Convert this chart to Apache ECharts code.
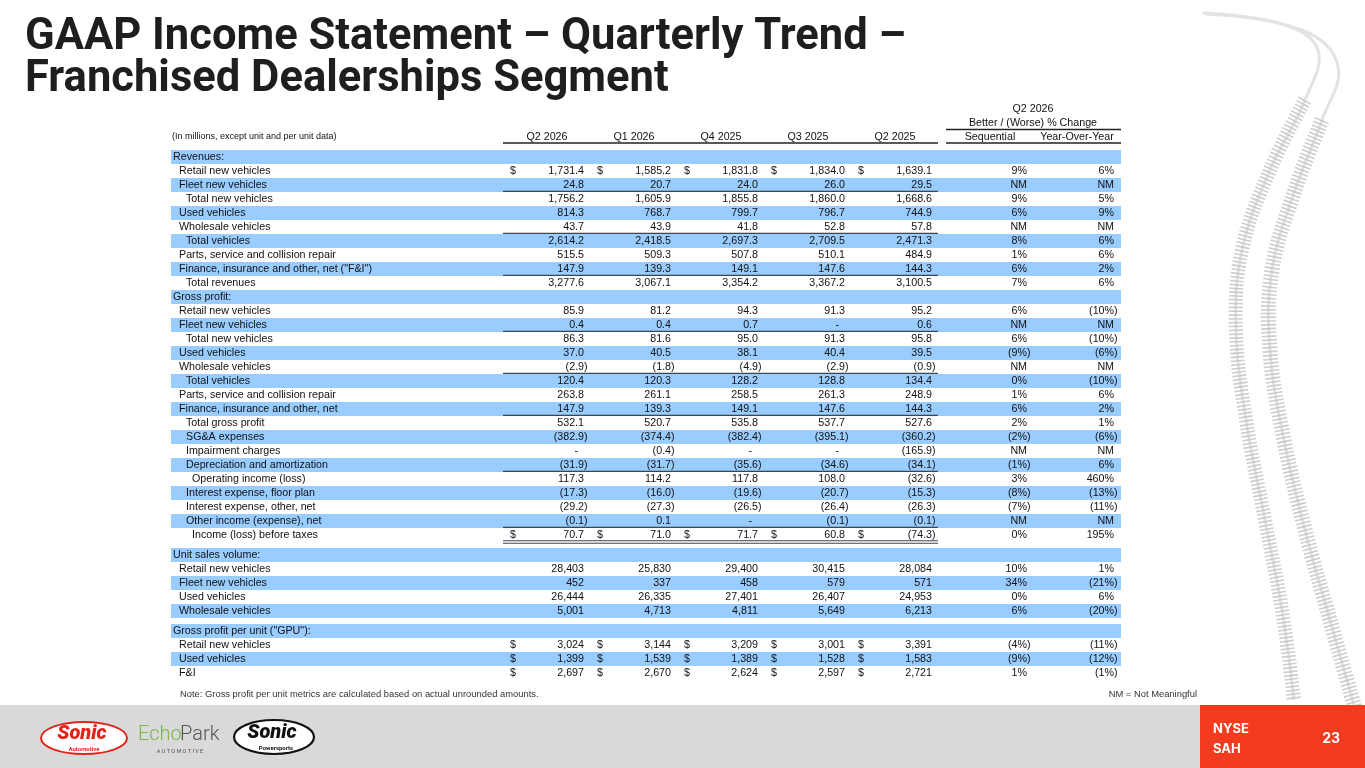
<!DOCTYPE html>
<html><head><meta charset="utf-8">
<script src="https://cdn.jsdelivr.net/npm/echarts@6/dist/echarts.min.js"></script>
<style>html,body{margin:0;padding:0;background:#fff}#main{width:1365px;height:768px}</style>
</head><body><div id="main"></div>
<script>
// ---------- DATA ----------
const titleLines = ['GAAP Income Statement \u2013 Quarterly Trend \u2013', 'Franchised Dealerships Segment'];
const quarters = ['Q2 2026', 'Q1 2026', 'Q4 2025', 'Q3 2025', 'Q2 2025'];
const changeGroupTitle = ['Q2 2026', 'Better / (Worse) % Change'];
const changeHeaders = ['Sequential', 'Year-Over-Year'];
const unitsNote = '(In millions, except unit and per unit data)';
const sectionTitles = ['Revenues:', 'Gross profit:', 'Unit sales volume:', 'Gross profit per unit ("GPU"):'];

const revenueLabels = ['Retail new vehicles', 'Fleet new vehicles', 'Total new vehicles', 'Used vehicles', 'Wholesale vehicles', 'Total vehicles', 'Parts, service and collision repair', 'Finance, insurance and other, net ("F&I")', 'Total revenues'];
const revenueValues = [
  [1731.4, 1585.2, 1831.8, 1834.0, 1639.1],
  [24.8, 20.7, 24.0, 26.0, 29.5],
  [1756.2, 1605.9, 1855.8, 1860.0, 1668.6],
  [814.3, 768.7, 799.7, 796.7, 744.9],
  [43.7, 43.9, 41.8, 52.8, 57.8],
  [2614.2, 2418.5, 2697.3, 2709.5, 2471.3],
  [515.5, 509.3, 507.8, 510.1, 484.9],
  [147.9, 139.3, 149.1, 147.6, 144.3],
  [3277.6, 3067.1, 3354.2, 3367.2, 3100.5]
];
const revenueSeq = [9, 'NM', 9, 6, 'NM', 8, 1, 6, 7];
const revenueYoy = [6, 'NM', 5, 9, 'NM', 6, 6, 2, 6];

const grossLabels = ['Retail new vehicles', 'Fleet new vehicles', 'Total new vehicles', 'Used vehicles', 'Wholesale vehicles', 'Total vehicles', 'Parts, service and collision repair', 'Finance, insurance and other, net', 'Total gross profit', 'SG&A expenses', 'Impairment charges', 'Depreciation and amortization', 'Operating income (loss)', 'Interest expense, floor plan', 'Interest expense, other, net', 'Other income (expense), net', 'Income (loss) before taxes'];
const grossValues = [
  [85.9, 81.2, 94.3, 91.3, 95.2],
  [0.4, 0.4, 0.7, null, 0.6],
  [86.3, 81.6, 95.0, 91.3, 95.8],
  [37.0, 40.5, 38.1, 40.4, 39.5],
  [-2.9, -1.8, -4.9, -2.9, -0.9],
  [120.4, 120.3, 128.2, 128.8, 134.4],
  [263.8, 261.1, 258.5, 261.3, 248.9],
  [147.9, 139.3, 149.1, 147.6, 144.3],
  [532.1, 520.7, 535.8, 537.7, 527.6],
  [-382.9, -374.4, -382.4, -395.1, -360.2],
  [null, -0.4, null, null, -165.9],
  [-31.9, -31.7, -35.6, -34.6, -34.1],
  [117.3, 114.2, 117.8, 108.0, -32.6],
  [-17.3, -16.0, -19.6, -20.7, -15.3],
  [-29.2, -27.3, -26.5, -26.4, -26.3],
  [-0.1, 0.1, null, -0.1, -0.1],
  [70.7, 71.0, 71.7, 60.8, -74.3]
];
const grossSeq = [6, 'NM', 6, -9, 'NM', 0, 1, 6, 2, -2, 'NM', -1, 3, -8, -7, 'NM', 0];
const grossYoy = [-10, 'NM', -10, -6, 'NM', -10, 6, 2, 1, -6, 'NM', 6, 460, -13, -11, 'NM', 195];

const unitLabels = ['Retail new vehicles', 'Fleet new vehicles', 'Used vehicles', 'Wholesale vehicles'];
const unitValues = [
  [28403, 25830, 29400, 30415, 28084],
  [452, 337, 458, 579, 571],
  [26444, 26335, 27401, 26407, 24953],
  [5001, 4713, 4811, 5649, 6213]
];
const unitSeq = [10, 34, 0, 6];
const unitYoy = [1, -21, 6, -20];

const gpuLabels = ['Retail new vehicles', 'Used vehicles', 'F&I'];
const gpuValues = [
  [3024, 3144, 3209, 3001, 3391],
  [1399, 1539, 1389, 1528, 1583],
  [2697, 2670, 2624, 2597, 2721]
];
const gpuSeq = [-4, -9, 1];
const gpuYoy = [-11, -12, -1];

const noteText = 'Note: Gross profit per unit metrics are calculated based on actual unrounded amounts.';
const nmText = 'NM = Not Meaningful';
const exchangeLines = ['NYSE', 'SAH'];
const pageNumber = '23';

// ---------- STYLE / LAYOUT ----------
const revenueIndent = [1, 1, 2, 1, 1, 2, 1, 1, 2];
const revenueRule = [0, 1, 0, 0, 1, 0, 0, 1, 0];
const revenueDollar = [1, 0, 0, 0, 0, 0, 0, 0, 0];
const grossIndent = [1, 1, 2, 1, 1, 2, 1, 1, 2, 2, 2, 2, 3, 2, 2, 2, 3];
const grossRule = [0, 1, 0, 0, 1, 0, 0, 1, 0, 0, 0, 1, 0, 0, 0, 1, 2];
const grossDollar = [0, 0, 0, 0, 0, 0, 0, 0, 0, 0, 0, 0, 0, 0, 0, 0, 1];

const COL_RIGHT = [584, 671, 758, 845, 932];
const SEQ_RIGHT = 1027, YOY_RIGHT = 1114;
const SEQ_CENTER = 990, YOY_CENTER = 1077, GROUP_CENTER = 1033;
const STRIPE_L = 171, STRIPE_R = 1121;
const RULE_L = 503, RULE_R = 938, CHG_L = 946, CHG_R = 1121;
const INDENT_X = [173, 179, 186, 192];
const ROW_H = 14, ROW0_Y = 157, GAP = 6 / 14;
const FONT = '"Liberation Sans", Arial, sans-serif';
const FS = 10.7;
const STRIPE_COLOR = '#99ccff';
const RULE_COLOR = '#3d454d';
const PAREN = 3.6;

// ---------- FORMATTERS ----------
function commas(intStr) { return intStr.replace(/\B(?=(\d{3})+(?!\d))/g, ','); }
function fmtNum(v, dec) {
  if (v === null) return '-';
  const s = Math.abs(v).toFixed(dec);
  const parts = s.split('.');
  const out = commas(parts[0]) + (parts[1] ? '.' + parts[1] : '');
  return v < 0 ? '(' + out + ')' : out;
}
function fmtPct(v) {
  if (v === 'NM') return 'NM';
  return v < 0 ? '(' + Math.abs(v) + '%)' : v + '%';
}

// ---------- ROWS ----------
const rows = [];
let pos = 0, stripeIdx = 0;
function addSection(title, labels, values, seq, yoy, indent, rule, dollar, dec, newBlock) {
  if (newBlock) { pos += GAP; stripeIdx = 0; }
  rows.push({ pos: pos, label: title, level: 0, stripe: stripeIdx % 2 === 0, header: true });
  pos += 1; stripeIdx += 1;
  labels.forEach((lab, i) => {
    rows.push({
      pos: pos, label: lab, level: indent[i], stripe: stripeIdx % 2 === 0,
      cells: values[i].map(v => fmtNum(v, dec)), nulls: values[i].map(v => v === null),
      seq: fmtPct(seq[i]), yoy: fmtPct(yoy[i]), rule: rule[i], dollar: dollar[i]
    });
    pos += 1; stripeIdx += 1;
  });
}
addSection(sectionTitles[0], revenueLabels, revenueValues, revenueSeq, revenueYoy, revenueIndent, revenueRule, revenueDollar, 1, false);
addSection(sectionTitles[1], grossLabels, grossValues, grossSeq, grossYoy, grossIndent, grossRule, grossDollar, 1, false);
addSection(sectionTitles[2], unitLabels, unitValues, unitSeq, unitYoy, unitLabels.map(() => 1), unitLabels.map(() => 0), unitLabels.map(() => 0), 0, true);
addSection(sectionTitles[3], gpuLabels, gpuValues, gpuSeq, gpuYoy, gpuLabels.map(() => 1), gpuLabels.map(() => 0), gpuLabels.map(() => 1), 0, true);
const notePos = pos - 1 + (694 - (ROW0_Y + (pos - 1) * ROW_H)) / ROW_H;

// header items
const headerItems = [];
quarters.forEach((q, i) => headerItems.push({ text: q, x: COL_RIGHT[i] - 37, p: -20 / 14, align: 'center', rule: i === 0 ? [RULE_L, RULE_R] : null }));
changeHeaders.forEach((c, i) => headerItems.push({ text: c, x: i === 0 ? SEQ_CENTER : YOY_CENTER, p: -20 / 14, align: 'center', rule: i === 0 ? [CHG_L, CHG_R] : null }));
headerItems.push({ text: changeGroupTitle[0], x: GROUP_CENTER, p: -48 / 14, align: 'center' });
headerItems.push({ text: changeGroupTitle[1], x: GROUP_CENTER, p: -34 / 14, align: 'center', rule: [CHG_L, CHG_R], ruleDy: 6.5 });
headerItems.push({ text: unitsNote, x: 172, p: -20 / 14, align: 'left', size: 9 });

function txt(x, y, s, align, opt) {
  return {
    type: 'text', x: x, y: y, silent: true,
    style: Object.assign({
      text: s, fill: '#111', fontSize: FS, fontFamily: FONT,
      align: align, textAlign: align, verticalAlign: 'middle', textVerticalAlign: 'middle'
    }, opt || {})
  };
}
function hline(x1, x2, y, w, c) {
  return { type: 'line', silent: true, shape: { x1: x1, y1: y, x2: x2, y2: y }, style: { stroke: c || RULE_COLOR, lineWidth: w || 1.3 } };
}

function renderRow(params, api) {
  const r = rows[params.dataIndex];
  const p = api.value(1);
  const y = api.coord([0, p])[1];
  const h = api.size([0, 1])[1];
  const X = v => api.coord([v, p])[0];
  const ch = [];
  if (r.stripe) {
    ch.push({ type: 'rect', silent: true, shape: { x: X(STRIPE_L), y: y - h / 2, width: X(STRIPE_R) - X(STRIPE_L), height: h }, style: { fill: STRIPE_COLOR } });
  }
  ch.push(txt(X(INDENT_X[r.level]), y, r.label, 'left'));
  if (!r.header) {
    r.cells.forEach((s, i) => {
      let xr = COL_RIGHT[i];
      if (r.nulls[i]) xr -= 6;
      else if (s.endsWith(')')) xr += PAREN;
      ch.push(txt(X(xr), y, s, 'right'));
      if (r.dollar) ch.push(txt(X(COL_RIGHT[i] - 74), y, '$', 'left'));
    });
    ch.push(txt(X(SEQ_RIGHT + (r.seq.endsWith(')') ? PAREN : 0)), y, r.seq, 'right'));
    ch.push(txt(X(YOY_RIGHT + (r.yoy.endsWith(')') ? PAREN : 0)), y, r.yoy, 'right'));
    if (r.rule === 1) ch.push(hline(X(RULE_L), X(RULE_R), y + 6.3));
    if (r.rule === 2) { ch.push(hline(X(RULE_L), X(RULE_R), y + 5.8, 1.1)); ch.push(hline(X(RULE_L), X(RULE_R), y + 8.2, 1.1)); }
  }
  return { type: 'group', children: ch };
}

function renderHeader(params, api) {
  const it = headerItems[params.dataIndex];
  const pt = api.coord([api.value(0), api.value(1)]);
  const ch = [txt(pt[0], pt[1], it.text, it.align, it.size ? { fontSize: it.size } : null)];
  if (it.rule) {
    const yy = pt[1] + (it.ruleDy || 6);
    ch.push(hline(api.coord([it.rule[0], 0])[0], api.coord([it.rule[1], 0])[0], yy, 1.3, '#222'));
  }
  return { type: 'group', children: ch };
}

// ---------- TITLE SCALE ----------
const TITLE_SIZE = 44;
const mctx = document.createElement('canvas').getContext('2d');
mctx.font = '700 ' + TITLE_SIZE + 'px Roboto';
const titleScale = 881 / mctx.measureText(titleLines[0]).width;

// ---------- DECOR ----------
const trackA = [[1203, 13], [1282, 24], [1318, 50], [1305, 100], [1270, 170], [1242, 250], [1236, 330], [1246, 420], [1265, 520], [1282, 610], [1294, 700]];
const trackB = [[1206, 14], [1302, 30], [1338, 66], [1322, 120], [1295, 190], [1272, 270], [1270, 350], [1284, 440], [1305, 530], [1330, 620], [1356, 712]];

const titleStyle = { fontSize: TITLE_SIZE, fontWeight: 700, fontFamily: 'Roboto', fill: '#1e1e1e', verticalAlign: 'middle', textVerticalAlign: 'middle' };
const graphics = [
  { type: 'polyline', z: 0, silent: true, shape: { points: trackA, smooth: 0.4 }, style: { stroke: '#e3e3e3', lineWidth: 3, fill: null } },
  { type: 'polyline', z: 0, silent: true, shape: { points: trackB, smooth: 0.4 }, style: { stroke: '#e3e3e3', lineWidth: 3, fill: null } },
  { type: 'polyline', z: 0, silent: true, shape: { points: trackA.slice(3), smooth: 0.4 }, style: { stroke: '#c4c4c4', lineWidth: 14, lineDash: [1.6, 2.2], fill: null, opacity: 0.85 } },
  { type: 'polyline', z: 0, silent: true, shape: { points: trackB.slice(3), smooth: 0.4 }, style: { stroke: '#c4c4c4', lineWidth: 15, lineDash: [1.6, 2.2], fill: null, opacity: 0.85 } },
  { type: 'text', x: 25, y: 38, scaleX: titleScale, silent: true, style: Object.assign({ text: titleLines[0] }, titleStyle) },
  { type: 'text', x: 25, y: 80, scaleX: titleScale, silent: true, style: Object.assign({ text: titleLines[1] }, titleStyle) },
  // footer
  { type: 'rect', z: 1, silent: true, shape: { x: 0, y: 705, width: 1365, height: 63 }, style: { fill: '#d9d9d9' } },
  { type: 'rect', z: 2, silent: true, shape: { x: 1200, y: 705, width: 165, height: 63 }, style: { fill: '#f23b1f' } },
  { type: 'text', z: 3, x: 1213, y: 729, silent: true, style: { text: exchangeLines[0], fontSize: 13, fontWeight: 700, fontFamily: 'Inter', fill: '#fff', verticalAlign: 'middle', textVerticalAlign: 'middle' } },
  { type: 'text', z: 3, x: 1213, y: 749, silent: true, style: { text: exchangeLines[1], fontSize: 13, fontWeight: 700, fontFamily: 'Inter', fill: '#fff', verticalAlign: 'middle', textVerticalAlign: 'middle' } },
  { type: 'text', z: 3, x: 1340, y: 739, silent: true, style: { text: pageNumber, fontSize: 14, fontWeight: 700, fontFamily: 'Inter', fill: '#fff', align: 'right', textAlign: 'right', verticalAlign: 'middle', textVerticalAlign: 'middle' } },
  // logos
  { type: 'ellipse', z: 3, silent: true, shape: { cx: 84, cy: 738, rx: 43, ry: 16 }, style: { fill: '#fff', stroke: '#e0261b', lineWidth: 2 } },
  { type: 'text', z: 4, x: 82, y: 734, silent: true, style: { text: 'Sonic', fontSize: 20, fontWeight: 900, fontStyle: 'italic', fontFamily: 'Roboto', fill: '#e0261b', align: 'center', textAlign: 'center', verticalAlign: 'middle', textVerticalAlign: 'middle' } },
  { type: 'text', z: 4, x: 84, y: 749, silent: true, style: { text: 'Automotive', fontSize: 6, fontWeight: 700, fontFamily: 'Roboto', fill: '#e0261b', align: 'center', textAlign: 'center', verticalAlign: 'middle', textVerticalAlign: 'middle' } },
  { type: 'text', z: 4, x: 138, y: 735, silent: true, style: { text: 'Echo', fontSize: 20, fontWeight: 300, fontFamily: 'Roboto', fill: '#7ab648', verticalAlign: 'middle', textVerticalAlign: 'middle' } },
  { type: 'text', z: 4, x: 180, y: 735, silent: true, style: { text: 'Park', fontSize: 20, fontWeight: 300, fontFamily: 'Roboto', fill: '#555', verticalAlign: 'middle', textVerticalAlign: 'middle' } },
  { type: 'text', z: 4, x: 180, y: 752, silent: true, style: { text: 'A U T O M O T I V E', fontSize: 5.5, fontFamily: 'Roboto', fill: '#555', align: 'center', textAlign: 'center', verticalAlign: 'middle', textVerticalAlign: 'middle' } },
  { type: 'ellipse', z: 3, silent: true, shape: { cx: 274, cy: 737, rx: 40, ry: 17 }, style: { fill: '#fff', stroke: '#111', lineWidth: 2.2 } },
  { type: 'text', z: 4, x: 272, y: 733, silent: true, style: { text: 'Sonic', fontSize: 20, fontWeight: 900, fontStyle: 'italic', fontFamily: 'Roboto', fill: '#111', align: 'center', textAlign: 'center', verticalAlign: 'middle', textVerticalAlign: 'middle' } },
  { type: 'text', z: 4, x: 276, y: 748, silent: true, style: { text: 'Powersports', fontSize: 6, fontWeight: 700, fontFamily: 'Roboto', fill: '#111', align: 'center', textAlign: 'center', verticalAlign: 'middle', textVerticalAlign: 'middle' } }
];

// ---------- CHART ----------
const chart = echarts.init(document.getElementById('main'), null, { renderer: 'canvas' });
chart.setOption({
  animation: false,
  backgroundColor: '#fff',
  grid: { left: 0, right: 0, top: 0, bottom: 0, containLabel: false },
  xAxis: { type: 'value', min: 0, max: 1365, show: false },
  yAxis: { type: 'value', min: -ROW0_Y / ROW_H, max: (768 - ROW0_Y) / ROW_H, inverse: true, show: false },
  graphic: graphics,
  series: [
    { type: 'custom', name: 'table', z: 5, silent: true, renderItem: renderRow, data: rows.map(r => [0, r.pos]) },
    { type: 'custom', name: 'header', z: 5, silent: true, renderItem: renderHeader, data: headerItems.map(h => [h.x, h.p]) },
    { type: 'custom', name: 'notes', z: 5, silent: true,
      data: [[180, notePos], [1197, notePos]],
      renderItem: function (params, api) {
        const pt = api.coord([api.value(0), api.value(1)]);
        const i = params.dataIndex;
        return txt(pt[0], pt[1], i === 0 ? noteText : nmText, i === 0 ? 'left' : 'right', { fontSize: 9.4, fill: '#333' });
      } }
  ]
});
</script></body></html>
